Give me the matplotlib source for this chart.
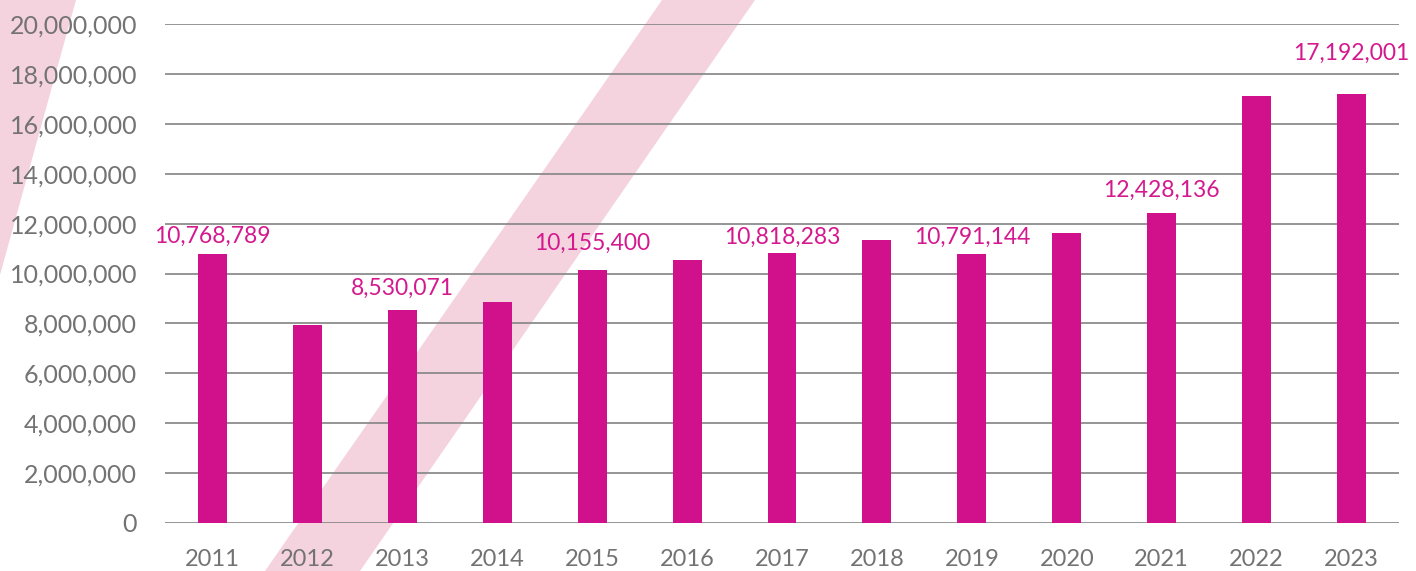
import matplotlib
matplotlib.use("Agg")
import matplotlib.pyplot as plt
from matplotlib.patches import Polygon
from matplotlib.ticker import FuncFormatter, MultipleLocator

years = ["2011", "2012", "2013", "2014", "2015", "2016", "2017",
         "2018", "2019", "2020", "2021", "2022", "2023"]
values = [10768789, 7930000, 8530071, 8850000, 10155400, 10530000, 10818283,
          11330000, 10791144, 11610000, 12428136, 17130000, 17192001]
labelled = [True, False, True, False, True, False, True,
            False, True, False, True, False, True]
label_gap_px = [7, 0, 11, 0, 16, 0, 5, 0, 6, 0, 12, 0, 30]

W, H, DPI = 1416, 571, 100
BAR = "#D0118B"
LABEL = "#D4198F"
BAND = "#F4D3DF"
GREY = "#737373"
GRID = "#8C8C8C"
FONT = "Lato"
FS_Y = 18
FS_X = 17
FS_L = 16.5

fig = plt.figure(figsize=(W / DPI, H / DPI), dpi=DPI)

def fpt(x, y):
    return (x / W, 1 - y / H)

band1 = Polygon([fpt(662, 0), fpt(755, 0), fpt(360, 571), fpt(265, 571)],
                closed=True, transform=fig.transFigure, facecolor=BAND,
                edgecolor="none", zorder=0)
band2 = Polygon([fpt(0, 0), fpt(76, 0), fpt(0, 275)],
                closed=True, transform=fig.transFigure, facecolor=BAND,
                edgecolor="none", zorder=0)
fig.patches.extend([band1, band2])

ax = fig.add_axes([165 / W, (H - 523) / H, (1399 - 165) / W, (523 - 24) / H])
ax.set_facecolor("none")
ax.set_zorder(1)

x = list(range(len(years)))
ax.bar(x, values, width=0.305, color=BAR, zorder=3)

ax.set_xlim(-0.5, len(years) - 0.5)
ax.set_ylim(0, 20000000)
ax.yaxis.set_major_locator(MultipleLocator(2000000))
ax.yaxis.set_major_formatter(FuncFormatter(lambda v, p: f"{int(v):,}"))
ax.set_xticks(x)
ax.set_xticklabels(years)

ax.grid(axis="y", color=GRID, linewidth=1.3, zorder=1)
ax.set_axisbelow(True)
for s in ax.spines.values():
    s.set_visible(False)
ax.tick_params(axis="both", length=0, colors=GREY)
ax.tick_params(axis="y", pad=20, labelsize=FS_Y)
ax.tick_params(axis="x", pad=19, labelsize=FS_X)
for lab in ax.get_xticklabels() + ax.get_yticklabels():
    lab.set_fontfamily(FONT)
    lab.set_fontweight("normal")
    lab.set_color(GREY)

for i, (v, show) in enumerate(zip(values, labelled)):
    if show:
        ax.annotate(f"{v:,}", xy=(i, v), xytext=(0, label_gap_px[i] * 72 / DPI),
                    textcoords="offset points", ha="center", va="bottom",
                    fontsize=FS_L, fontfamily=FONT, fontweight="normal",
                    color=LABEL, zorder=4, annotation_clip=False)

fig.savefig("out.png", dpi=DPI)
